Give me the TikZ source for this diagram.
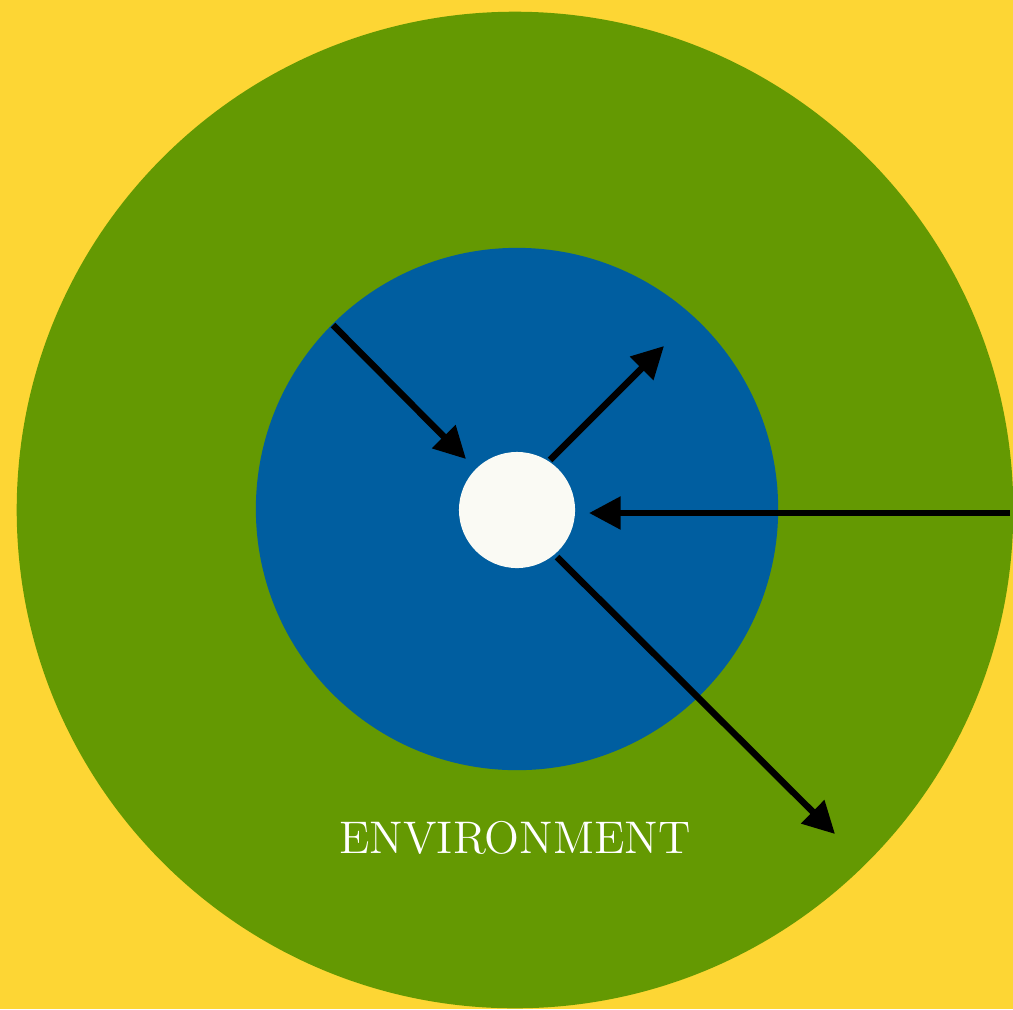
\documentclass[tikz,border=0pt]{standalone}
\usetikzlibrary{arrows.meta}
\definecolor{bgyellow}{RGB}{253,214,52}
\definecolor{envgreen}{RGB}{100,153,2}
\definecolor{coreblue}{RGB}{0,94,160}
\definecolor{corewhite}{RGB}{250,250,244}
\tikzset{
  ring/.style={circle, inner sep=0pt, minimum size=#1, draw=none},
  flow/.style={line width=1.85pt, draw=black, -{Triangle[length=9pt,width=9pt]}},
  label/.style={text=white, font=\fontsize{13}{15}\selectfont}
}
\begin{document}
\begin{tikzpicture}[x=0.01cm,y=-0.01cm]
\fill[bgyellow] (0,0) rectangle (1013,1009);
\useasboundingbox (0,0) rectangle (1013,1009);
\begin{scope}
\clip (0,0) rectangle (1013,1009);
\node[ring=9.96cm, fill=envgreen] (env) at (515,510) {};
\end{scope}
\node[ring=5.22cm, fill=coreblue] (mid) at (517,509) {};
\node[ring=1.16cm, fill=corewhite] (core) at (517,510) {};
\node[label] (envlabel) at (515,838) {ENVIRONMENT};
\coordinate (a1s) at (333,325);
\coordinate (a1e) at (466,459);
\coordinate (a2s) at (550,460);
\coordinate (a2e) at (664,346);
\coordinate (a3s) at (1010,513);
\coordinate (a3e) at (589,513);
\coordinate (a4s) at (557,557);
\coordinate (a4e) at (835,834);
\draw[flow] (a1s) -- (a1e);
\draw[flow] (a2s) -- (a2e);
\draw[flow] (a3s) -- (a3e);
\draw[flow] (a4s) -- (a4e);
\end{tikzpicture}
\end{document}
